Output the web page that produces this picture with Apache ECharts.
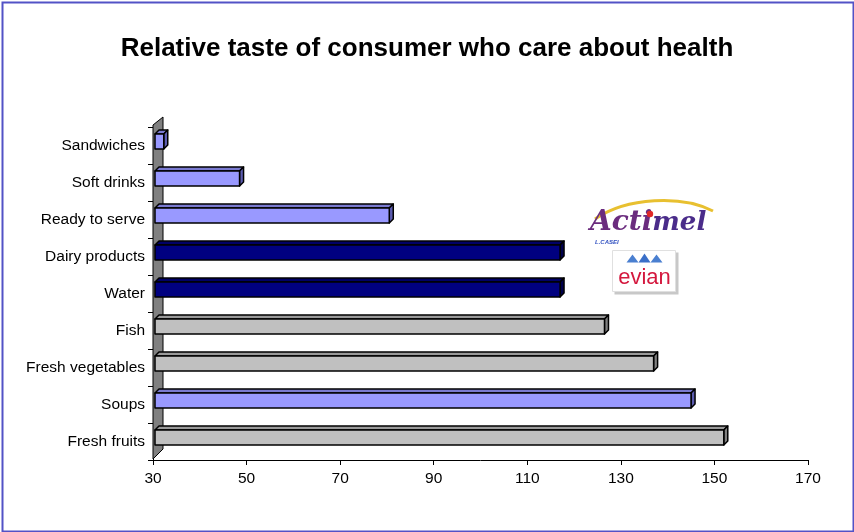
<!DOCTYPE html>
<html><head><meta charset="utf-8">
<script src="https://cdn.jsdelivr.net/npm/echarts@6/dist/echarts.min.js"></script>
<style>html,body{margin:0;padding:0;background:#fff}#c{width:854px;height:532px}</style>
</head><body><div id="c"></div>
<script>
// ---- data ----
const categories = ['Fresh fruits','Soups','Fresh vegetables','Fish','Water','Dairy products','Ready to serve','Soft drinks','Sandwiches'];
const values = [152, 145, 137, 126.5, 117, 117, 80.5, 48.5, 32.3];
const xTicks = [30, 50, 70, 90, 110, 130, 150, 170];
const titleText = 'Relative taste of consumer who care about health';

// ---- styles ----
const NARROW = '"Liberation Sans Narrow","Arial Narrow","Liberation Sans",sans-serif';
const palette = {
  grey:  {front:'#C0C0C0', top:'#9a9a9a', side:'#808080'},
  light: {front:'#9999FF', top:'#7a7ad0', side:'#5c5cb0'},
  navy:  {front:'#000080', top:'#000066', side:'#00004d'}
};
const catStyle = {
  'Fresh fruits':'grey','Soups':'light','Fresh vegetables':'grey','Fish':'grey',
  'Water':'navy','Dairy products':'navy','Ready to serve':'light','Soft drinks':'light','Sandwiches':'light'
};

const chart = echarts.init(document.getElementById('c'), null, {renderer:'canvas'});
const D = 4;      // bar depth offset
const BH = 15;    // bar thickness
const SHIFT = -4; // bars sit back in depth

const option = {
  backgroundColor:'#fff',
  animation:false,
  title:{ text:titleText, left:'center', top:31,
    textStyle:{ fontSize:26, fontWeight:'bold', color:'#000', fontFamily:NARROW } },
  grid:{ left:153, right:46, top:127, bottom:72, containLabel:false },
  xAxis:{ type:'value', min:xTicks[0], max:xTicks[xTicks.length-1], interval:20,
    axisLine:{show:true, lineStyle:{color:'#000', width:1}},
    axisTick:{show:true, length:5, lineStyle:{color:'#000'}},
    splitLine:{show:false},
    axisLabel:{ color:'#000', fontSize:15.5, fontFamily:NARROW, margin:11 } },
  yAxis:{ type:'category', data:categories,
    axisLine:{show:true, lineStyle:{color:'#000'}},
    axisTick:{show:true, length:5, lineStyle:{color:'#000'}},
    axisLabel:{ color:'#000', fontSize:15.5, fontFamily:NARROW, margin:8 } },
  series:[
    { type:'custom', z:1, clip:false, silent:true,
      data:[[0,0]],
      renderItem(params, api){
        const cs = params.coordSys;
        const x0 = cs.x, yt = cs.y - 2, yb = cs.y + cs.height - 1;
        return { type:'polygon',
          shape:{points:[[x0,yt],[x0+10,yt-8],[x0+10,yb-10],[x0,yb]]},
          style:{fill:'#808080', stroke:'#000', lineWidth:1} };
      } },
    { type:'custom', z:2, clip:false,
      data: values.map((v,i)=>[v,i]),
      encode:{x:0, y:1},
      renderItem(params, api){
        const v = api.value(0), i = api.value(1);
        const end = api.coord([v, i]);
        const start = api.coord([xTicks[0], i]);
        const cy = end[1] + SHIFT;
        const x0 = start[0] + 2, x1 = end[0];
        const t = cy - BH/2, b = cy + BH/2;
        const pal = palette[catStyle[categories[i]]];
        const ls = {stroke:'#000', lineWidth:1.5, lineJoin:'round'};
        return { type:'group', children:[
          { type:'polygon', shape:{points:[[x0,t],[x0+D,t-D],[x1+D,t-D],[x1,t]]},
            style:Object.assign({fill:pal.top}, ls) },
          { type:'polygon', shape:{points:[[x1,t],[x1+D,t-D],[x1+D,b-D],[x1,b]]},
            style:Object.assign({fill:pal.side}, ls) },
          { type:'rect', shape:{x:x0, y:t, width:x1-x0, height:BH},
            style:Object.assign({fill:pal.front}, ls) }
        ]};
      } }
  ],
  graphic:[
    { type:'rect', left:0, top:0, z:100, silent:true,
      shape:{x:1, y:1, width:851, height:529},
      style:{fill:'none', stroke:'#5252c6', lineWidth:2} },
    // Actimel logo (decoration)
    { type:'group', left:590, top:198, z:50, children:[
      { type:'bezierCurve', shape:{x1:8,y1:22,cpx1:40,cpy1:0,cpx2:95,cpy2:-2,x2:126,y2:14},
        style:{stroke:'#e8c030', lineWidth:3, fill:'none'} },
      { type:'text', x:3, y:12, style:{text:'{a|Acti}{b|mel}', rich:{
          a:{font:'italic bold 28px "DejaVu Serif",serif', fill:'#6b2c7e', color:'#6b2c7e'},
          b:{font:'italic bold 26px "DejaVu Serif",serif', fill:'#4a2c8a', color:'#4a2c8a'} } } },
      { type:'circle', shape:{cx:63, cy:17, r:3.2}, style:{fill:'#e02828'} },
      { type:'text', x:8, y:42, style:{text:'L.CASEI', font:'italic bold 6px sans-serif', fill:'#3050c0'} }
    ]},
    // evian logo (decoration)
    { type:'group', left:612, top:250, z:50, children:[
      { type:'rect', shape:{x:2, y:2, width:64, height:42}, style:{fill:'#c8c8c8'} },
      { type:'rect', shape:{x:0, y:0, width:63, height:41}, style:{fill:'#fff', stroke:'#e0e0e0', lineWidth:1} },
      { type:'polygon', shape:{points:[[14,12],[20,4],[26,12]]}, style:{fill:'#4a7fd0'} },
      { type:'polygon', shape:{points:[[26,12],[32,3],[38,12]]}, style:{fill:'#3a6fc8'} },
      { type:'polygon', shape:{points:[[38,12],[44,4],[50,12]]}, style:{fill:'#4a7fd0'} },
      { type:'text', x:32, y:27, style:{text:'evian', font:'22px "Liberation Sans",sans-serif', fill:'#d4183e', align:'center', verticalAlign:'middle'} }
    ]}
  ]
};
chart.setOption(option);
</script></body></html>
